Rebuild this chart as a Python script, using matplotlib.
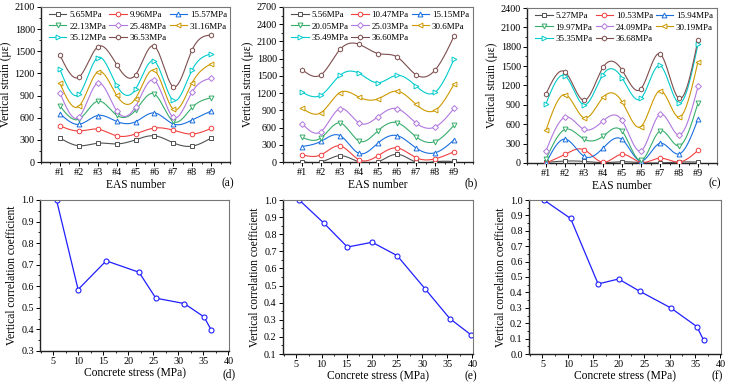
import numpy as np
import matplotlib
matplotlib.use("Agg")
import matplotlib.pyplot as plt
from matplotlib.ticker import MultipleLocator, FixedLocator

plt.rcParams['font.family'] = ['Liberation Serif', 'DejaVu Serif']
plt.rcParams['mathtext.fontset'] = 'stix'

eas_labels = ['#1', '#2', '#3', '#4', '#5', '#6', '#7', '#8', '#9']

# Panel (a)
stress_a = ['5.65MPa', '9.96MPa', '15.57MPa', '22.13MPa', '25.48MPa', '31.16MPa', '35.12MPa', '36.53MPa']
strain_a_1 = [325, 220, 255, 245, 300, 355, 260, 215, 325]
strain_a_2 = [490, 420, 445, 355, 380, 460, 430, 380, 455]
strain_a_3 = [655, 510, 630, 550, 545, 665, 515, 570, 690]
strain_a_4 = [760, 580, 825, 635, 700, 920, 550, 740, 870]
strain_a_5 = [940, 605, 1070, 695, 750, 1105, 605, 950, 1135]
strain_a_6 = [1065, 755, 1220, 905, 860, 1240, 715, 1075, 1330]
strain_a_7 = [1255, 915, 1415, 1040, 985, 1365, 835, 1250, 1465]
strain_a_8 = [1450, 1150, 1560, 1320, 1180, 1570, 1020, 1520, 1720]

# Panel (b)
stress_b = ['5.56MPa', '10.47MPa', '15.15MPa', '20.05MPa', '25.03MPa', '30.6MPa', '35.49MPa', '36.60MPa']
strain_b_1 = [5, 0, 110, 0, 0, 135, 0, 5, 10]
strain_b_2 = [125, 125, 280, 40, 110, 245, 75, 55, 180]
strain_b_3 = [270, 360, 460, 150, 330, 460, 245, 160, 385]
strain_b_4 = [430, 420, 680, 365, 545, 685, 440, 355, 640]
strain_b_5 = [670, 530, 930, 680, 790, 930, 680, 610, 935]
strain_b_6 = [940, 860, 1210, 1130, 1100, 1235, 1005, 900, 1355]
strain_b_7 = [1215, 1165, 1510, 1545, 1380, 1510, 1325, 1215, 1790]
strain_b_8 = [1610, 1520, 1960, 2050, 1890, 1830, 1520, 1600, 2190]

# Panel (c)
stress_c = ['5.27MPa', '10.53MPa', '15.94MPa', '19.97MPa', '24.09MPa', '30.19MPa', '35.35MPa', '36.68MPa']
strain_c_1 = [10, 30, 25, 5, 20, 5, 0, 15, 15]
strain_c_2 = [0, 135, 205, 10, 135, 10, 75, 15, 195]
strain_c_3 = [0, 370, 105, 230, 365, 30, 305, 140, 680]
strain_c_4 = [60, 520, 370, 415, 495, 40, 495, 265, 930]
strain_c_5 = [190, 710, 520, 650, 660, 190, 755, 435, 1185]
strain_c_6 = [510, 1060, 700, 1015, 950, 565, 1120, 710, 1570]
strain_c_7 = [920, 1350, 900, 1370, 1320, 1000, 1510, 930, 1840]
strain_c_8 = [1070, 1410, 970, 1480, 1440, 1150, 1690, 1000, 1910]

# Correlation panels
stress_d = [5.65, 9.96, 15.57, 22.13, 25.48, 31.16, 35.12, 36.53]
coef_d = [1.0, 0.585, 0.718, 0.665, 0.545, 0.52, 0.458, 0.398]
stress_e = [5.56, 10.47, 15.15, 20.05, 25.03, 30.6, 35.49, 39.8]
coef_e = [1.0, 0.865, 0.725, 0.753, 0.675, 0.48, 0.307, 0.21]
stress_f = [5.27, 10.53, 15.94, 19.97, 24.09, 30.19, 35.35, 36.68]
coef_f = [1.0, 0.88, 0.455, 0.487, 0.408, 0.30, 0.178, 0.09]

colors = ['#515151', '#F14040', '#1A6FDF', '#37AD6B', '#B177DE', '#CC9900', '#00CBCC', '#7D4E4E']
markers = ['s', 'o', '^', 'v', 'D', '<', '>', 'h']
msizes = [3.0, 3.3, 3.5, 3.5, 3.0, 3.5, 3.5, 3.5]

W, H = 729, 383
fig = plt.figure(figsize=(W / 100, H / 100), dpi=100)


def add_ax(l, r, t, b):
    return fig.add_axes([l / W, (H - b) / H, (r - l) / W, (b - t) / H])


def natural_spline(x, y, n=300):
    x = np.asarray(x, float)
    y = np.asarray(y, float)
    k = len(x)
    h = np.diff(x)
    A = np.zeros((k, k))
    rhs = np.zeros(k)
    A[0, 0] = 1
    A[-1, -1] = 1
    for i in range(1, k - 1):
        A[i, i - 1] = h[i - 1]
        A[i, i] = 2 * (h[i - 1] + h[i])
        A[i, i + 1] = h[i]
        rhs[i] = 6 * ((y[i + 1] - y[i]) / h[i] - (y[i] - y[i - 1]) / h[i - 1])
    M = np.linalg.solve(A, rhs)
    xs = np.linspace(x[0], x[-1], n)
    idx = np.clip(np.searchsorted(x, xs) - 1, 0, k - 2)
    x0, x1 = x[idx], x[idx + 1]
    hh = x1 - x0
    a = (x1 - xs) / hh
    bb = (xs - x0) / hh
    ys = a * y[idx] + bb * y[idx + 1] + ((a ** 3 - a) * M[idx] + (bb ** 3 - bb) * M[idx + 1]) * hh ** 2 / 6
    return xs, ys


def style_axes(ax):
    for s in ['left', 'bottom']:
        ax.spines[s].set_color('#222222')
        ax.spines[s].set_linewidth(1.0)
    for s in ['top', 'right']:
        ax.spines[s].set_color('#777777')
        ax.spines[s].set_linewidth(0.8)
    ax.tick_params(which='major', direction='out', length=3, width=0.7, labelsize=7.3, pad=1.5,
                   top=False, right=False)
    ax.tick_params(which='minor', direction='out', length=1.5, width=0.6, top=False, right=False)


def strain_panel(ax, series, labels, ymax, letter, letter_x):
    x = np.arange(1, 10)
    handles = []
    for i, yv in enumerate(series):
        xs, ys = natural_spline(x, yv)
        ax.plot(xs, ys, color=colors[i], lw=0.8, zorder=2)
        ax.plot(x, yv, linestyle='none', marker=markers[i], ms=msizes[i], mfc='white',
                mec=colors[i], mew=0.7, zorder=3)
        h, = ax.plot([], [], color=colors[i], lw=0.8, marker=markers[i], ms=msizes[i],
                     mfc='white', mec=colors[i], mew=0.7, label=labels[i])
        handles.append(h)
    order = [0, 3, 6, 1, 4, 7, 2, 5]
    ax.legend([handles[i] for i in order], [labels[i] for i in order], ncol=3, frameon=False,
              fontsize=6.5, loc='upper left', bbox_to_anchor=(0.025, 1.0), handlelength=1.9,
              handletextpad=0.35, columnspacing=0.3, labelspacing=0.37, borderaxespad=0.0,
              borderpad=0.4)
    ax.set_xlim(0, 10)
    ax.set_ylim(0, ymax)
    ax.xaxis.set_major_locator(FixedLocator(list(range(1, 10))))
    ax.set_xticklabels(eas_labels)
    ax.xaxis.set_minor_locator(MultipleLocator(0.5))
    ax.yaxis.set_major_locator(MultipleLocator(300))
    ax.yaxis.set_minor_locator(MultipleLocator(150))
    style_axes(ax)
    ax.set_xlabel('EAS number', fontsize=8.3, labelpad=1)
    ax.set_ylabel('Vertical strain (με)', fontsize=8.3, labelpad=1.5)
    fig.text(letter_x / W, 1 - 183 / H, letter, fontsize=8.3, ha='center', va='center')


def coef_panel(ax, xv, yv, ymin, letter, letter_x, letter_y):
    ax.plot(xv, yv, color='#1f1fff', lw=0.9, marker='o', ms=3.6, mfc='white', mec='#1f1fff', mew=0.8)
    ax.set_xlim(2.35, 40.1)
    ax.set_ylim(ymin, 1.0)
    ax.xaxis.set_major_locator(MultipleLocator(5))
    ax.xaxis.set_minor_locator(MultipleLocator(2.5))
    ax.yaxis.set_minor_locator(MultipleLocator(0.05))
    ticks = np.round(np.arange(ymin, 1.0001, 0.1), 1)
    ax.set_yticks(ticks)
    ax.set_yticklabels(['%.1f' % v for v in ticks])
    style_axes(ax)
    ax.set_xlabel('Concrete stress (MPa)', fontsize=8.3, labelpad=1)
    ax.set_ylabel('Vertical correlation coefficient', fontsize=8.3, labelpad=2)
    fig.text(letter_x / W, 1 - letter_y / H, letter, fontsize=8.3, ha='center', va='center')


ax_a = add_ax(41, 230, 7, 162)
strain_panel(ax_a, [strain_a_1, strain_a_2, strain_a_3, strain_a_4, strain_a_5, strain_a_6, strain_a_7, strain_a_8],
             stress_a, 2100, '(a)', 228)
ax_b = add_ax(283, 473, 7, 162)
strain_panel(ax_b, [strain_b_1, strain_b_2, strain_b_3, strain_b_4, strain_b_5, strain_b_6, strain_b_7, strain_b_8],
             stress_b, 2700, '(b)', 471)
ax_c = add_ax(527, 717, 8, 163)
strain_panel(ax_c, [strain_c_1, strain_c_2, strain_c_3, strain_c_4, strain_c_5, strain_c_6, strain_c_7, strain_c_8],
             stress_c, 2400, '(c)', 715)

ax_d = add_ax(40, 229, 200, 351)
coef_panel(ax_d, stress_d, coef_d, 0.3, '(d)', 229, 374)
ax_e = add_ax(283, 473, 200, 354)
coef_panel(ax_e, stress_e, coef_e, 0.1, '(e)', 471, 376)
ax_f = add_ax(529, 721, 200, 354)
coef_panel(ax_f, stress_f, coef_f, 0.0, '(f)', 717, 376)

fig.savefig('out.png', dpi=100)
